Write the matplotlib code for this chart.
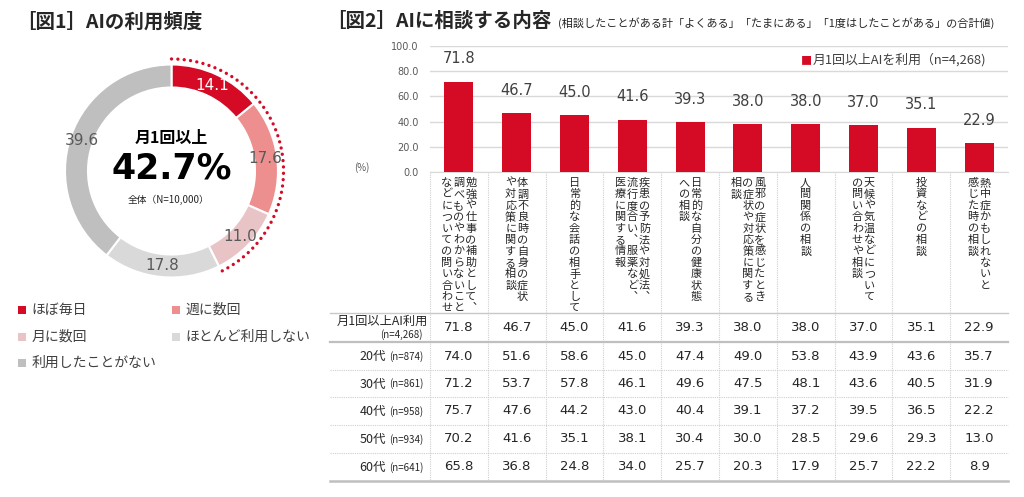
import matplotlib
matplotlib.use('Agg')
import matplotlib.pyplot as plt
import numpy as np

# ============================================================
# DATA
# ============================================================

FREQ_LABELS = ["ほぼ毎日", "週に数回", "月に数回", "ほとんど利用しない", "利用したことがない"]
FREQ_VALUES = [14.1, 17.6, 11.0, 17.8, 39.6]
MONTHLY_SHARE = 42.7
MONTHLY_N = "全体（N=10,000）"

TOPICS = [
    ["勉強や仕事の補助として、", "調べものやわからないこと", "などについての問い合わせ"],
    ["体調不良時の自身の症状", "や対応策に関する相談"],
    ["日常的な会話の相手として"],
    ["疾患の予防法や対処法、", "流行度合い、服薬など、", "医療に関する情報"],
    ["日常的な自分の健康状態", "への相談"],
    ["風邪の症状を感じたとき", "の症状や対応策に関する", "相談"],
    ["人間関係の相談"],
    ["天候や気温などについて", "の問い合わせや相談"],
    ["投資などの相談"],
    ["熱中症かもしれないと", "感じた時の相談"],
]
ALL_USERS = [71.8, 46.7, 45.0, 41.6, 39.3, 38.0, 38.0, 37.0, 35.1, 22.9]
ALL_LABEL = "月1回以上AI利用"
ALL_N = "(n=4,268)"
LEGEND_LABEL = "月1回以上AIを利用（n=4,268)"

AGE_GROUPS = ["20代", "30代", "40代", "50代", "60代"]
AGE_N = ["(n=874)", "(n=861)", "(n=958)", "(n=934)", "(n=641)"]
AGE_VALUES = [
    [74.0, 51.6, 58.6, 45.0, 47.4, 49.0, 53.8, 43.9, 43.6, 35.7],
    [71.2, 53.7, 57.8, 46.1, 49.6, 47.5, 48.1, 43.6, 40.5, 31.9],
    [75.7, 47.6, 44.2, 43.0, 40.4, 39.1, 37.2, 39.5, 36.5, 22.2],
    [70.2, 41.6, 35.1, 38.1, 30.4, 30.0, 28.5, 29.6, 29.3, 13.0],
    [65.8, 36.8, 24.8, 34.0, 25.7, 20.3, 17.9, 25.7, 22.2, 8.9],
]
Y_TICKS = [0, 20, 40, 60, 80, 100]

TITLE1 = "［図1］AIの利用頻度"
TITLE2 = "［図2］AIに相談する内容"
SUBTITLE2 = "(相談したことがある計「よくある」「たまにある」「1度はしたことがある」の合計値)"

# ============================================================
# STYLE
# ============================================================

RED = "#D50A24"
FREQ_COLORS = [RED, "#EE8F8F", "#E9C4C7", "#D9D9D9", "#BFBFBF"]
DARK = "#262626"
GRAY_TXT = "#404040"
JP = ['Noto Sans CJK JP', 'DejaVu Sans']
NUM = ['DejaVu Sans', 'Noto Sans CJK JP']
# vertical-writing forms of punctuation
VERTICAL_FORMS = {"、": "\ufe11", "。": "\ufe12"}

plt.rcParams.update({
    'font.family': JP,
    'axes.unicode_minus': False,
    'figure.facecolor': 'white',
})

W, H = 1024, 497
fig = plt.figure(figsize=(W / 100, H / 100), dpi=100)


def box(x0, y0, x1, y1):
    """pixel box (top-left origin) -> figure fraction rect"""
    return [x0 / W, 1 - y1 / H, (x1 - x0) / W, (y1 - y0) / H]


base = fig.add_axes([0, 0, 1, 1])
base.set_xlim(0, W)
base.set_ylim(H, 0)
base.axis('off')

# ============================================================
# FIG 1 : DONUT
# ============================================================

base.text(16, 22, TITLE1, fontsize=14, fontweight='bold', color=DARK,
          ha='left', va='center')

ax_pie = fig.add_axes(box(65, 64.5, 278, 277.5))
RING = 0.216
ax_pie.pie(FREQ_VALUES, colors=FREQ_COLORS, startangle=90, counterclock=False,
           radius=1.0, wedgeprops={'width': RING, 'edgecolor': 'white', 'linewidth': 1.5})
ax_pie.set_xlim(-1, 1)
ax_pie.set_ylim(-1, 1)
ax_pie.set_aspect('equal')

total = sum(FREQ_VALUES)
cum = 0.0
for i, v in enumerate(FREQ_VALUES):
    ang = np.deg2rad(90 - (cum + v / 2) / total * 360)
    r = 1 - RING / 2
    ax_pie.text(r * np.cos(ang), r * np.sin(ang), f"{v:.1f}", ha='center', va='center',
                fontsize=11, family=NUM, color='white' if i == 0 else "#595959")
    cum += v

theta = np.deg2rad(np.linspace(90, 90 - MONTHLY_SHARE / 100 * 360, 200))
ax_pie.plot(1.052 * np.cos(theta), 1.052 * np.sin(theta), color=RED, lw=2.4,
            linestyle=(0, (0.01, 1.9)), dash_capstyle='round', clip_on=False)

ax_pie.text(0, 0.31, "月1回以上", ha='center', va='center', fontsize=11.5,
            fontweight='bold', color='black')
ax_pie.text(0, 0.02, f"{MONTHLY_SHARE}%", ha='center', va='center', fontsize=25,
            fontweight='bold', family=NUM, color='black')
ax_pie.text(-0.03, -0.27, MONTHLY_N, ha='center', va='center', fontsize=7, color=DARK)

# legend
leg_pos = [(21.5, 310), (175.5, 310), (21.5, 337), (175.5, 337), (21.5, 363)]
for (x, y), lab, c in zip(leg_pos, FREQ_LABELS, FREQ_COLORS):
    base.scatter([x], [y], marker='s', s=30, color=c, linewidths=0)
    base.text(x + 10, y, lab, fontsize=10, color=GRAY_TXT, ha='left', va='center')

# ============================================================
# FIG 2 : BARS
# ============================================================

base.text(326, 21, TITLE2, fontsize=14, fontweight='bold', color=DARK,
          ha='left', va='center')
base.text(558, 23, SUBTITLE2, fontsize=8, color=DARK, ha='left', va='center')

AX_L, AX_R, AX_T, AX_B = 430, 1008, 46, 172
ax = fig.add_axes(box(AX_L, AX_T, AX_R, AX_B))
x = np.arange(len(ALL_USERS))
ax.bar(x, ALL_USERS, width=0.5, color=RED, zorder=3)
ax.set_xlim(-0.5, len(ALL_USERS) - 0.5)
ax.set_ylim(0, 100)
ax.set_yticks(Y_TICKS)
ax.set_yticklabels([f"{t:.1f}" for t in Y_TICKS], family=NUM, fontsize=7, color="#595959")
ax.tick_params(axis='y', length=0, pad=8)
ax.set_xticks([])
ax.grid(axis='y', color="#D9D9D9", lw=1)
for s in ['top', 'right', 'left']:
    ax.spines[s].set_visible(False)
ax.spines['bottom'].set_color("#D9D9D9")
ax.set_facecolor('none')
for xi, v in zip(x, ALL_USERS):
    ax.annotate(f"{v:.1f}", (xi, v), xytext=(0, 11), textcoords='offset points',
                ha='center', va='bottom', fontsize=10.5, family=NUM, color=GRAY_TXT)

base.text(362, 168, "(%)", fontsize=7, color="#595959", ha='center', va='center')

# legend of bar chart
lt = base.text(986, 60, LEGEND_LABEL, fontsize=9.3, color=GRAY_TXT, ha='right', va='center')
base.annotate("■", xy=(0, 0.45), xycoords=lt, xytext=(0, 0), textcoords='offset points',
              ha='right', va='center', fontsize=8, color=RED)

# column centres / edges in pixel space, derived from the bar axes
to_px = lambda px, py: base.transData.inverted().transform(ax.transData.transform((px, py)))
centers = [to_px(i, 0)[0] for i in range(len(ALL_USERS))]
edges = [to_px(i - 0.5, 0)[0] for i in range(len(ALL_USERS))]

# vertical category labels (tategaki, first line rightmost)
CH_TOP, CH_STEP, COL_STEP = 183, 11.4, 12
for cx, lines in zip(centers, TOPICS):
    n = len(lines)
    for j, line in enumerate(lines):
        colx = cx + (n - 1) / 2 * COL_STEP - j * COL_STEP
        for k, ch in enumerate(line):
            base.text(colx, CH_TOP + k * CH_STEP, VERTICAL_FORMS.get(ch, ch), fontsize=8,
                      color=DARK, ha='center', va='center')

# ============================================================
# TABLE
# ============================================================

T_LEFT, T_RIGHT = 330, AX_R
ROW_Y = [313, 342, 370, 397, 425, 453, 481]

for xe in edges:
    base.plot([xe, xe], [AX_B, ROW_Y[-1]], color="#CFCFCF", lw=0.8, linestyle=(0, (1, 1)))
base.plot([T_LEFT, T_RIGHT], [ROW_Y[0], ROW_Y[0]], color="#C8C8C8", lw=1)
base.plot([T_LEFT, T_RIGHT], [ROW_Y[1], ROW_Y[1]], color="#BFBFBF", lw=1.6)
for yl in ROW_Y[2:-1]:
    base.plot([T_LEFT, T_RIGHT], [yl, yl], color="#CFCFCF", lw=0.8, linestyle=(0, (1, 1)))
base.plot([T_LEFT, T_RIGHT], [ROW_Y[-1], ROW_Y[-1]], color="#BFBFBF", lw=1.8)

rows = [ALL_USERS] + AGE_VALUES
for r, vals in enumerate(rows):
    yc = (ROW_Y[r] + ROW_Y[r + 1]) / 2
    for cx, v in zip(centers, vals):
        base.text(cx, yc, f"{v:.1f}", ha='center', va='center', fontsize=9.5,
                  family=NUM, color=DARK)

y0 = (ROW_Y[0] + ROW_Y[1]) / 2
base.text(428, y0 - 6, ALL_LABEL, ha='right', va='center', fontsize=8.8, color=DARK)
base.text(423, y0 + 7.5, ALL_N, ha='right', va='center', fontsize=7, color=DARK)
for r, (g, nlab) in enumerate(zip(AGE_GROUPS, AGE_N)):
    yc = (ROW_Y[r + 1] + ROW_Y[r + 2]) / 2
    t = base.text(423, yc + 0.5, nlab, ha='right', va='center', fontsize=7, color=DARK)
    base.annotate(g, xy=(0, 0.5), xycoords=t, xytext=(-2, 0), textcoords='offset points',
                  ha='right', va='center', fontsize=9, color=DARK)

fig.savefig("out.png", dpi=100, facecolor='white')
plt.close(fig)
print("Saved: out.png")
